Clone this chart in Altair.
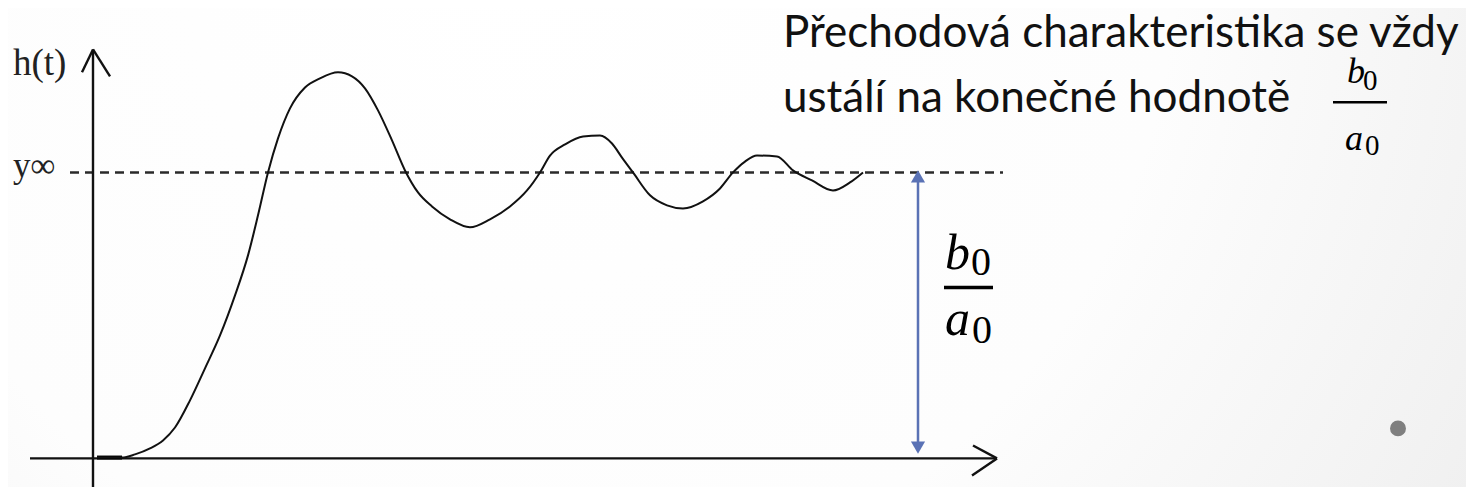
import altair as alt
import pandas as pd

# ---- data (t: time units, h: response, y_inf = 1) ----
curve_t = [0.04, 0.29, 0.42, 0.57, 0.70, 0.82, 0.97, 1.12, 1.27, 1.42, 1.55, 1.65, 1.75,
           1.85, 1.97, 2.12, 2.27, 2.45, 2.59, 2.72, 2.85, 2.99, 3.12, 3.25, 3.39, 3.57,
           3.77, 3.97, 4.17, 4.34, 4.47, 4.57, 4.72, 4.90, 5.07, 5.19, 5.29, 5.40, 5.57,
           5.74, 5.90, 6.10, 6.27, 6.40, 6.52, 6.64, 6.84, 7.00, 7.19, 7.40, 7.57, 7.70]
curve_h = [0.003, 0.003, 0.014, 0.035, 0.063, 0.108, 0.203, 0.315, 0.430, 0.570, 0.710,
           0.850, 1.000, 1.119, 1.224, 1.297, 1.329, 1.350, 1.336, 1.294, 1.217, 1.112,
           1.007, 0.930, 0.881, 0.836, 0.808, 0.836, 0.881, 0.937, 1.000, 1.059, 1.098,
           1.126, 1.129, 1.101, 1.052, 1.000, 0.920, 0.885, 0.874, 0.899, 0.944, 1.000,
           1.038, 1.059, 1.056, 1.007, 0.972, 0.937, 0.965, 1.000]

y_inf = 1.0
dash_t = [-0.23, 9.10]

# axis segments: (t, h) -> (t2, h2)
axis_t = [0.0, -0.63, 0.0, 0.0, 9.04, 9.04]
axis_h = [-0.13, 0.0, 1.43, 1.43, 0.0, 0.0]
axis_t2 = [0.0, 9.04, -0.11, 0.17, 8.80, 8.79]
axis_h2 = [1.43, 0.0, 1.35, 1.336, 0.045, -0.06]

start_t = [0.04, 0.29]
start_h = [0.003, 0.003]

# blue double arrow b0/a0
arrow_t = 8.25
arrow_h = [0.038, 0.986]
arrow_heads = ["triangle-down", "triangle-up"]

# serif labels
lab_text = ["h(t)", "y∞", "t"]
lab_t = [-0.80, -0.80, 8.89]
lab_h = [1.339, 0.985, -0.084]
lab_size = [37, 35, 36]
lab_align = ["left", "left", "center"]
lab_base = ["alphabetic", "alphabetic", "top"]

# big fraction
frac_txt = ["b", "0", "a", "0"]
frac_t = [8.52, 8.78, 8.52, 8.79]
frac_h = [0.664, 0.640, 0.430, 0.402]
frac_italic = ["italic", "normal", "italic", "normal"]
frac_size = [50, 40, 50, 40]
frac_bar_t = [8.51, 9.00]
frac_bar_h = 0.598

# heading
head_text = ["Přechodová charakteristika se vždy", "ustálí na konečné hodnotě"]
head_t = [6.90, 6.90]
head_h = [1.437, 1.21]

# small fraction in heading
sfrac_txt = ["b", "0", "a", "0"]
sfrac_t = [12.54, 12.70, 12.52, 12.72]
sfrac_h = [1.311, 1.290, 1.080, 1.062]
sfrac_style = ["italic", "normal", "italic", "normal"]
sfrac_size = [36, 29, 36, 29]
sfrac_bar_t = [12.40, 12.94]
sfrac_bar_h = 1.245

dot_t = [13.05]
dot_h = [0.105]

# ---- scales ----
W, H = 1458, 479
xs = alt.Scale(domain=[-0.85, 13.73], nice=False, zero=False)
ys = alt.Scale(domain=[-0.1, 1.575], nice=False, zero=False)


def X(f="t"):
    return alt.X(f"{f}:Q", scale=xs, axis=None)


def Y(f="h"):
    return alt.Y(f"{f}:Q", scale=ys, axis=None)


bg = alt.Chart(pd.DataFrame({"a": [0]})).mark_rect(
    color=alt.Gradient(
        gradient="radial", x1=0.35, y1=0.3, r1=0, x2=0.35, y2=0.3, r2=1.0,
        stops=[alt.GradientStop(offset=0, color="#ffffff"),
               alt.GradientStop(offset=0.45, color="#fdfdfd"),
               alt.GradientStop(offset=0.75, color="#f0f0f0"),
               alt.GradientStop(offset=1, color="#dadada")])
).encode(x=alt.value(0), x2=alt.value(W), y=alt.value(0), y2=alt.value(H))

dash = alt.Chart(pd.DataFrame({"t": [dash_t[0]], "t2": [dash_t[1]], "h": [y_inf]})).mark_rule(
    color="#2a2a2a", strokeWidth=2.6, strokeDash=[9, 6]
).encode(x=X(), x2="t2:Q", y=Y())

axes = alt.Chart(pd.DataFrame({"t": axis_t, "h": axis_h, "t2": axis_t2, "h2": axis_h2})).mark_rule(
    color="#111111", strokeWidth=2.4
).encode(x=X(), x2="t2:Q", y=Y(), y2="h2:Q")

start = alt.Chart(pd.DataFrame({"t": [start_t[0]], "t2": [start_t[1]], "h": [start_h[0]]})).mark_rule(
    color="#000000", strokeWidth=4
).encode(x=X(), x2="t2:Q", y=Y())

curve = alt.Chart(pd.DataFrame({"t": curve_t, "h": curve_h})).mark_line(
    color="#111111", strokeWidth=2, interpolate="monotone"
).encode(x=X(), y=Y())

blue = "#5a72b5"
arrow_line = alt.Chart(pd.DataFrame({"t": [arrow_t], "h": [arrow_h[0]], "h2": [arrow_h[1]]})).mark_rule(
    color=blue, strokeWidth=2.5
).encode(x=X(), y=Y(), y2="h2:Q")

arrow_tips = alt.Chart(pd.DataFrame({"t": [arrow_t, arrow_t], "h": arrow_h, "s": arrow_heads})).mark_point(
    filled=True, size=200, color=blue, opacity=1
).encode(x=X(), y=Y(), shape=alt.Shape("s:N", scale=None, legend=None))

labels = alt.layer(*[
    alt.Chart(pd.DataFrame({"t": [lab_t[i]], "h": [lab_h[i]], "txt": [lab_text[i]]})).mark_text(
        font="Liberation Serif", fontSize=lab_size[i], color="#222222",
        align=lab_align[i], baseline=lab_base[i]
    ).encode(x=X(), y=Y(), text="txt:N")
    for i in range(len(lab_text))
])

big_frac = alt.layer(*[
    alt.Chart(pd.DataFrame({"t": [frac_t[i]], "h": [frac_h[i]], "txt": [frac_txt[i]]})).mark_text(
        font="Liberation Serif", fontSize=frac_size[i], fontStyle=frac_italic[i],
        color="#000000", align="left", baseline="alphabetic"
    ).encode(x=X(), y=Y(), text="txt:N")
    for i in range(4)
])
big_bar = alt.Chart(pd.DataFrame({"t": [frac_bar_t[0]], "t2": [frac_bar_t[1]], "h": [frac_bar_h]})).mark_rule(
    color="#000000", strokeWidth=3.5
).encode(x=X(), x2="t2:Q", y=Y())

heading = alt.Chart(pd.DataFrame({"t": head_t, "h": head_h, "txt": head_text})).mark_text(
    font="Lato", fontSize=44, color="#111111", align="left", baseline="alphabetic"
).encode(x=X(), y=Y(), text="txt:N")

small_frac = alt.layer(*[
    alt.Chart(pd.DataFrame({"t": [sfrac_t[i]], "h": [sfrac_h[i]], "txt": [sfrac_txt[i]]})).mark_text(
        font="Liberation Serif", fontSize=sfrac_size[i], fontStyle=sfrac_style[i],
        color="#000000", align="left", baseline="alphabetic"
    ).encode(x=X(), y=Y(), text="txt:N")
    for i in range(4)
])
small_bar = alt.Chart(pd.DataFrame({"t": [sfrac_bar_t[0]], "t2": [sfrac_bar_t[1]], "h": [sfrac_bar_h]})).mark_rule(
    color="#000000", strokeWidth=2.5
).encode(x=X(), x2="t2:Q", y=Y())

dot = alt.Chart(pd.DataFrame({"t": dot_t, "h": dot_h})).mark_circle(
    size=254, color="#7f7f7f", opacity=1
).encode(x=X(), y=Y())

chart = alt.layer(
    bg, dash, axes, start, curve, arrow_line, arrow_tips, labels,
    big_frac, big_bar, heading, small_frac, small_bar, dot
).properties(width=W, height=H, padding=0, autosize=alt.AutoSizeParams(type="none")
).configure_view(stroke=None).configure(background="white")

chart.save("out.html", embed_options={"renderer": "svg", "actions": False})
